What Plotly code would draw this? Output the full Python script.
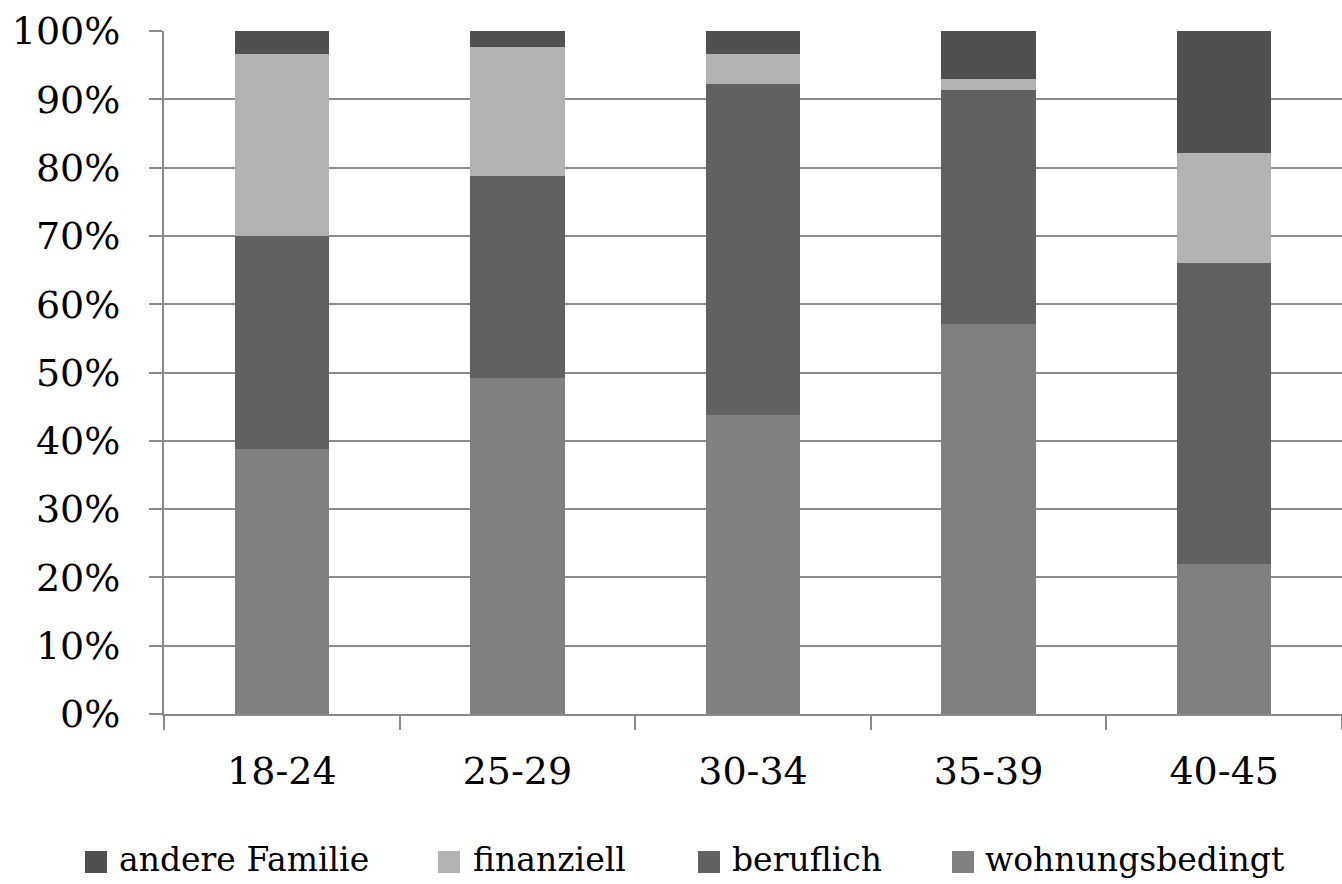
import plotly.graph_objects as go

# age groups and stacked shares (percent)
age_groups = ['18-24', '25-29', '30-34', '35-39', '40-45']
wohnungsbedingt = [38.8, 49.2, 43.8, 57.1, 21.9]
beruflich = [31.2, 29.5, 48.4, 34.2, 44.1]
finanziell = [26.7, 19.0, 4.4, 1.7, 16.1]
andere_familie = [3.3, 2.3, 3.4, 7.0, 17.9]

series = [
    ('wohnungsbedingt', wohnungsbedingt, '#808080'),
    ('beruflich', beruflich, '#616161'),
    ('finanziell', finanziell, '#b3b3b3'),
    ('andere Familie', andere_familie, '#505050'),
]

# Liberation Serif is not picked up by the browser here, DejaVu Serif is
FONT = 'DejaVu Serif'
W, H = 1342, 884
L, R, T, B = 164, 0, 31, 170
PW, PH = W - L - R, H - T - B


def px_x(x):
    return (x - L) / PW


def px_y(y):
    return (H - B - y) / PH


fig = go.Figure()
for name, vals, col in series:
    fig.add_trace(go.Bar(
        x=age_groups, y=vals, name=name,
        marker=dict(color=col, line=dict(width=0)),
        showlegend=False,
    ))

# hand-made legend with large square swatches, in Excel order
legend_items = [
    ('andere Familie', '#505050', 85, 117),
    ('finanziell', '#b3b3b3', 438, 471),
    ('beruflich', '#616161', 698, 730),
    ('wohnungsbedingt', '#808080', 952, 983),
]
for name, col, sx, tx in legend_items:
    fig.add_shape(type='rect', xref='paper', yref='paper',
                  x0=px_x(sx), x1=px_x(sx + 22), y0=px_y(873), y1=px_y(851),
                  fillcolor=col, line=dict(width=0))
    fig.add_annotation(text=name, xref='paper', yref='paper',
                       x=px_x(tx), y=px_y(859), xanchor='left', yanchor='middle',
                       showarrow=False, font=dict(family=FONT, size=33, color='black'))

fig.update_layout(
    barmode='stack',
    bargap=0.6,
    width=W, height=H,
    margin=dict(l=L, r=R, t=T, b=B, autoexpand=False),
    paper_bgcolor='white',
    plot_bgcolor='white',
    font=dict(family=FONT, size=38, color='black'),
)
fig.update_xaxes(
    showgrid=False, showline=True, linecolor='#8a8a8a', linewidth=2,
    ticks='outside', tickson='boundaries', ticklen=14, tickcolor='#8a8a8a', tickwidth=1.5,
    ticklabelstandoff=22, automargin=False,
    tickfont=dict(family=FONT, size=38, color='black'),
)
fig.update_yaxes(
    range=[0, 100], dtick=10, ticksuffix='%',
    showgrid=True, gridcolor='#8c8c8c', gridwidth=2,
    showline=True, linecolor='#8a8a8a', linewidth=2,
    ticks='outside', ticklen=13, tickcolor='#8a8a8a', tickwidth=2,
    zeroline=False, ticklabelstandoff=21, automargin=False,
    tickfont=dict(family=FONT, size=38, color='black'),
)

fig.write_html('out.html', config={'displayModeBar': False},
               post_script="document.body.style.margin='0';")
